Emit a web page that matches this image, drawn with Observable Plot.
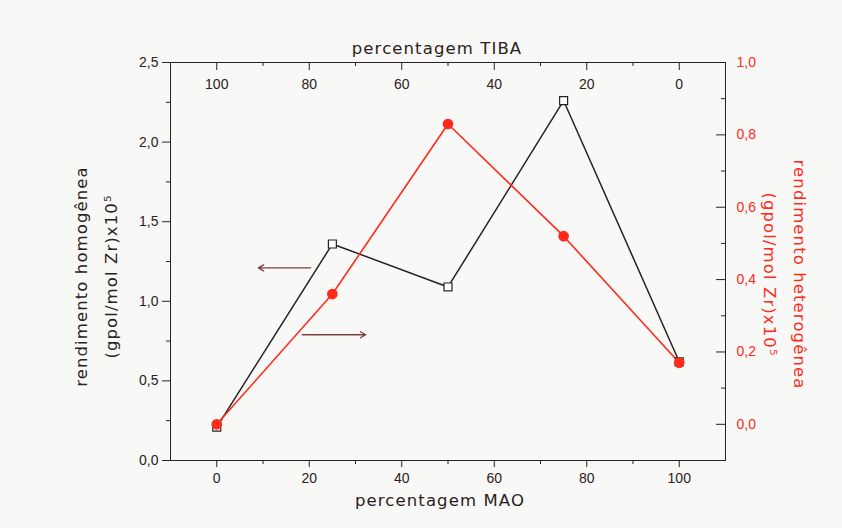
<!DOCTYPE html>
<html><head><meta charset="utf-8">
<script src="https://cdn.jsdelivr.net/npm/d3@7"></script>
<script src="https://cdn.jsdelivr.net/npm/@observablehq/plot@0.6"></script>
<style>
html,body{margin:0;padding:0;background:#f8f8f6;}
#chart svg{display:block;}
g[font-size="16.5"] text{letter-spacing:1.1px;}
</style></head><body><div id="chart"></div>
<script>
// percentagem MAO (bottom axis); TIBA = 100 - MAO (top axis)
const mao = [0, 25, 50, 75, 100];
const homogenea = [0.21, 1.36, 1.09, 2.26, 0.62];      // left axis
const heterogenea = [0.0, 0.36, 0.83, 0.52, 0.17];     // right axis
const xMajor = [0, 20, 40, 60, 80, 100];
const xMinor = [10, 30, 50, 70, 90];
const leftMajor = [0, 0.5, 1.0, 1.5, 2.0, 2.5];
const leftMinor = [0.25, 0.75, 1.25, 1.75, 2.25];
const rightMajor = [0, 0.2, 0.4, 0.6, 0.8, 1.0];
const rightMinor = [0.1, 0.3, 0.5, 0.7, 0.9];
const rightDomain = [-0.1, 1.0];
const leftDomain = [0, 2.5];
// annotation arrows (data units: MAO, left axis)
const arrowX1 = [20.3, 18.5];
const arrowX2 = [9.0, 32.2];
const arrowY = [1.21, 0.79];
const topTitle = "percentagem TIBA";
const bottomTitle = "percentagem MAO";
const leftTitle = "rendimento homogênea\n(gpol/mol Zr)x10⁵";
const rightTitle = "rendimento heterogênea\n(gpol/mol Zr)x10⁵";

const RED = "#ff2a1c";
const INK = "#2a2222";
const W = 842, H = 528, mL = 170, mR = 117, mT = 62, mB = 68;
const pw = W - mL - mR, ph = H - mT - mB;
const r2l = v => (v - rightDomain[0]) / (rightDomain[1] - rightDomain[0]) * (leftDomain[1] - leftDomain[0]) + leftDomain[0];
const comma = d => d.toFixed(1).replace(".", ",");

const hom = mao.map((x, i) => ({x, y: homogenea[i]}));
const het = mao.map((x, i) => ({x, y: r2l(heterogenea[i])}));
const arrows = arrowX1.map((x1, i) => ({x1, x2: arrowX2[i], y: arrowY[i]}));

const chart = Plot.plot({
  width: W, height: H,
  marginLeft: mL, marginRight: mR, marginTop: mT, marginBottom: mB,
  style: {background: "transparent", fontFamily: "'Liberation Sans', Arial, sans-serif", color: INK},
  x: {domain: [-10, 110]},
  y: {domain: leftDomain},
  marks: [
    // left axis
    Plot.axisY({anchor: "left", ticks: leftMajor, tickSize: 8, tickPadding: 4, tickFormat: comma, label: null, fontSize: 14, stroke: INK}),
    Plot.axisY({anchor: "left", ticks: leftMinor, tickSize: 4, tickFormat: () => "", label: null, stroke: INK}),
    // bottom axis
    Plot.axisX({anchor: "bottom", ticks: xMajor, tickSize: 7, tickPadding: 6, tickFormat: d => String(d), label: null, fontSize: 14, stroke: INK}),
    Plot.axisX({anchor: "bottom", ticks: xMinor, tickSize: 4, tickFormat: () => "", label: null, stroke: INK}),
    // top axis (TIBA), inward ticks, labels inside
    Plot.ruleX(xMajor, {x: d => d, insetBottom: ph - 8, stroke: INK}),
    Plot.ruleX(xMinor, {x: d => d, insetBottom: ph - 4, stroke: INK}),
    Plot.text(xMajor, {x: d => d, text: d => String(100 - d), frameAnchor: "top", dy: 17, fontSize: 14, fill: INK}),
    // right axis, inward ticks, red labels
    Plot.ruleY(rightMajor, {y: d => r2l(d), insetLeft: pw - 9, stroke: INK}),
    Plot.ruleY(rightMinor, {y: d => r2l(d), insetLeft: pw - 4, stroke: INK}),
    Plot.text(rightMajor, {y: d => r2l(d), text: comma, frameAnchor: "right", textAnchor: "start", dx: 11, fontSize: 14, fill: RED}),
    Plot.frame({stroke: INK}),
    // titles
    Plot.text([topTitle], {frameAnchor: "top", dy: -20, dx: -11, fontSize: 16.5, fill: INK, fontFamily: "DejaVu Sans"}),
    Plot.text([bottomTitle], {frameAnchor: "bottom", dy: 45, dx: -8, fontSize: 16.5, fill: INK, fontFamily: "DejaVu Sans"}),
    Plot.text([leftTitle], {frameAnchor: "left", textAnchor: "middle", dx: -78, dy: 15, rotate: -90, lineHeight: 1.8, fontSize: 16.5, fill: INK, fontFamily: "DejaVu Sans"}),
    Plot.text([rightTitle], {frameAnchor: "right", textAnchor: "middle", dx: 63, dy: 13, rotate: 90, lineHeight: 1.8, fontSize: 16.5, fill: RED, fontFamily: "DejaVu Sans"}),
    // arrows
    Plot.arrow(arrows, {x1: "x1", y1: "y", x2: "x2", y2: "y", stroke: "#7a4040", strokeWidth: 1.3, headLength: 7}),
    // series
    Plot.line(hom, {x: "x", y: "y", stroke: INK, strokeWidth: 1.5}),
    Plot.line(het, {x: "x", y: "y", stroke: RED, strokeWidth: 1.6}),
    Plot.dot(hom, {x: "x", y: "y", symbol: "square", r: 4.5, stroke: INK, fill: "white", strokeWidth: 1.2}),
    Plot.dot(het, {x: "x", y: "y", r: 4.6, fill: RED, stroke: RED})
  ]
});
document.getElementById("chart").append(chart);
</script>
</body></html>
